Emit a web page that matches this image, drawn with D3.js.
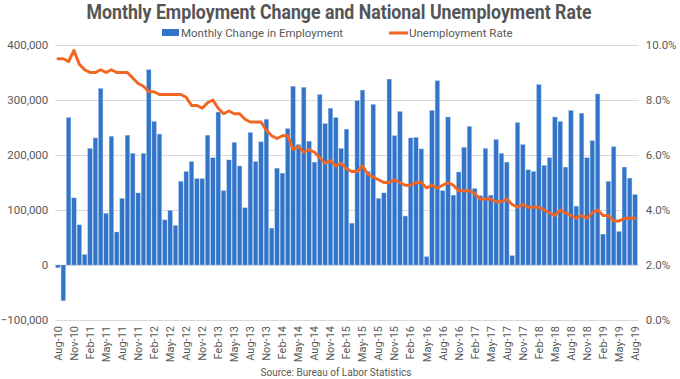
<!DOCTYPE html>
<html>
<head>
<meta charset="utf-8">
<script src="https://cdn.jsdelivr.net/npm/d3@7"></script>
<style>
  html, body { margin: 0; padding: 0; background: #fff; }
  svg { display: block; font-family: Roboto, "Noto Sans", sans-serif; }
</style>
</head>
<body>
<svg id="chart" width="680" height="379"></svg>
<script>
// ---- DATA ----
const months = [
  "Aug-10","Sep-10","Oct-10","Nov-10","Dec-10",
  "Jan-11","Feb-11","Mar-11","Apr-11","May-11","Jun-11","Jul-11","Aug-11","Sep-11","Oct-11","Nov-11","Dec-11",
  "Jan-12","Feb-12","Mar-12","Apr-12","May-12","Jun-12","Jul-12","Aug-12","Sep-12","Oct-12","Nov-12","Dec-12",
  "Jan-13","Feb-13","Mar-13","Apr-13","May-13","Jun-13","Jul-13","Aug-13","Sep-13","Oct-13","Nov-13","Dec-13",
  "Jan-14","Feb-14","Mar-14","Apr-14","May-14","Jun-14","Jul-14","Aug-14","Sep-14","Oct-14","Nov-14","Dec-14",
  "Jan-15","Feb-15","Mar-15","Apr-15","May-15","Jun-15","Jul-15","Aug-15","Sep-15","Oct-15","Nov-15","Dec-15",
  "Jan-16","Feb-16","Mar-16","Apr-16","May-16","Jun-16","Jul-16","Aug-16","Sep-16","Oct-16","Nov-16","Dec-16",
  "Jan-17","Feb-17","Mar-17","Apr-17","May-17","Jun-17","Jul-17","Aug-17","Sep-17","Oct-17","Nov-17","Dec-17",
  "Jan-18","Feb-18","Mar-18","Apr-18","May-18","Jun-18","Jul-18","Aug-18","Sep-18","Oct-18","Nov-18","Dec-18",
  "Jan-19","Feb-19","Mar-19","Apr-19","May-19","Jun-19","Jul-19","Aug-19"
];

// Monthly change in employment (thousands)
const employmentChange = [
  -5, -65, 268, 122, 73, 19, 212, 231, 321, 94,
  234, 60, 121, 236, 203, 131, 203, 355, 261, 238,
  82, 99, 72, 152, 170, 188, 157, 157, 236, 195,
  278, 135, 191, 223, 180, 104, 241, 188, 224, 265,
  67, 176, 167, 248, 325, 219, 323, 225, 187, 310,
  257, 285, 268, 212, 247, 76, 299, 318, 170, 292,
  121, 131, 338, 235, 279, 89, 231, 232, 211, 15,
  281, 335, 135, 269, 127, 169, 214, 252, 139, 126,
  212, 127, 228, 203, 187, 17, 259, 219, 173, 170,
  328, 181, 195, 269, 261, 178, 281, 107, 276, 195,
  226, 311, 56, 152, 215, 61, 178, 158, 128
];

// Unemployment rate (%)
const unemploymentRate = [
  9.5, 9.5, 9.4, 9.8, 9.3, 9.1, 9.0, 9.0, 9.1, 9.0,
  9.1, 9.0, 9.0, 9.0, 8.8, 8.6, 8.5, 8.3, 8.3, 8.2,
  8.2, 8.2, 8.2, 8.2, 8.1, 7.8, 7.8, 7.7, 7.9, 8.0,
  7.7, 7.5, 7.6, 7.5, 7.5, 7.3, 7.2, 7.2, 7.2, 6.9,
  6.7, 6.6, 6.7, 6.7, 6.2, 6.3, 6.1, 6.2, 6.1, 5.9,
  5.7, 5.8, 5.6, 5.7, 5.5, 5.4, 5.4, 5.6, 5.3, 5.2,
  5.1, 5.0, 5.0, 5.1, 5.0, 4.9, 4.9, 5.0, 5.0, 4.8,
  4.9, 4.8, 4.9, 5.0, 4.9, 4.7, 4.7, 4.7, 4.6, 4.4,
  4.4, 4.4, 4.3, 4.3, 4.4, 4.2, 4.1, 4.2, 4.1, 4.1,
  4.1, 4.0, 3.9, 3.8, 4.0, 3.9, 3.8, 3.7, 3.8, 3.7,
  3.9, 4.0, 3.8, 3.8, 3.6, 3.6, 3.7, 3.7, 3.7
];

const leftTicks = [-100000, 0, 100000, 200000, 300000, 400000];
const rightTicks = [0, 2, 4, 6, 8, 10];
const xTickLabels = months.filter((m, i) => i % 3 === 0);

const titleText = "Monthly Employment Change and National Unemployment Rate";
const seriesNames = ["Monthly Change in Employment", "Unemployment Rate"];
const sourceText = "Source: Bureau of Labor Statistics";

// ---- CHART ----
const svg = d3.select("#chart");
const plotL = 55.3, plotR = 637.7, plotT = 45, plotB = 320;
const textColor = "#595959";
const barColor = "#3174c9";
const lineColor = "#f26522";

const x = d3.scaleBand().domain(months).range([plotL, plotR]).paddingInner(0.17).paddingOuter(0.08);
const yL = d3.scaleLinear().domain([-100000, 400000]).range([plotB, plotT]);
const yR = d3.scaleLinear().domain([0, 10]).range([plotB, plotT]);

// gridlines
svg.append("g").selectAll("line").data(leftTicks).join("line")
  .attr("x1", plotL).attr("x2", plotR + 1)
  .attr("y1", d => Math.round(yL(d)) + 0.5).attr("y2", d => Math.round(yL(d)) + 0.5)
  .attr("stroke", "#d9d9d9").attr("stroke-width", 1);

// left axis
const leftAxis = d3.axisLeft(yL).tickValues(leftTicks).tickFormat(d3.format(",")).tickSize(0).tickPadding(0);
const gL = svg.append("g").attr("transform", `translate(${plotL - 7},0)`).call(leftAxis);
gL.select(".domain").remove();
gL.selectAll("text").attr("fill", textColor).attr("font-size", 11.5).attr("font-family", "Roboto");

// right axis
const rightAxis = d3.axisRight(yR).tickValues(rightTicks).tickFormat(d => d3.format(".1f")(d) + "%").tickSize(0).tickPadding(0);
const gR = svg.append("g").attr("transform", `translate(${plotR + 8},0)`).call(rightAxis);
gR.select(".domain").remove();
gR.selectAll("text").attr("fill", textColor).attr("font-size", 11.5).attr("font-family", "Roboto");

// bars
const barData = months.map((m, i) => ({ m, v: employmentChange[i] * 1000 }));
svg.append("g").selectAll("rect").data(barData).join("rect")
  .attr("x", d => x(d.m))
  .attr("width", x.bandwidth())
  .attr("y", d => Math.min(yL(d.v), yL(0)))
  .attr("height", d => Math.abs(yL(d.v) - yL(0)))
  .attr("fill", barColor)
  .attr("stroke", "#9cbde9").attr("stroke-width", 0.4);

// line
const lineData = months.map((m, i) => ({ m, v: unemploymentRate[i] }));
const line = d3.line().x(d => x(d.m) + x.bandwidth() / 2).y(d => yR(d.v));
svg.append("path").datum(lineData)
  .attr("d", line)
  .attr("fill", "none").attr("stroke", lineColor).attr("stroke-width", 3)
  .attr("stroke-linejoin", "round").attr("stroke-linecap", "round");

// x axis labels
const xAxis = d3.axisBottom(x).tickValues(xTickLabels).tickSize(0).tickPadding(0);
const gX = svg.append("g").attr("transform", `translate(0,${plotB + 6})`).call(xAxis);
gX.select(".domain").remove();
gX.selectAll("text")
  .attr("fill", textColor).attr("font-size", 11).attr("font-family", "Roboto")
  .attr("transform", "rotate(-90)")
  .attr("text-anchor", "end")
  .attr("x", 0).attr("y", 0).attr("dy", "0.35em");

// title
svg.append("text")
  .attr("x", 339).attr("y", 19)
  .attr("text-anchor", "middle")
  .attr("font-family", "Roboto").attr("font-weight", "bold").attr("font-size", 20)
  .attr("fill", "#555555")
  .attr("textLength", 505).attr("lengthAdjust", "spacingAndGlyphs")
  .text(titleText);

// legend
const lg = svg.append("g");
lg.append("rect").attr("x", 162).attr("y", 29).attr("width", 17).attr("height", 7).attr("fill", barColor);
lg.append("text").attr("x", 181).attr("y", 36.5).attr("font-size", 11.5).attr("fill", textColor).text(seriesNames[0]);
lg.append("line").attr("x1", 389).attr("x2", 408).attr("y1", 33).attr("y2", 33)
  .attr("stroke", lineColor).attr("stroke-width", 3);
lg.append("text").attr("x", 409).attr("y", 36.5).attr("font-size", 11.5).attr("fill", textColor).text(seriesNames[1]);

// source
svg.append("text").attr("x", 336).attr("y", 376).attr("text-anchor", "middle")
  .attr("font-size", 10).attr("fill", textColor).text(sourceText);
</script>
</body>
</html>
